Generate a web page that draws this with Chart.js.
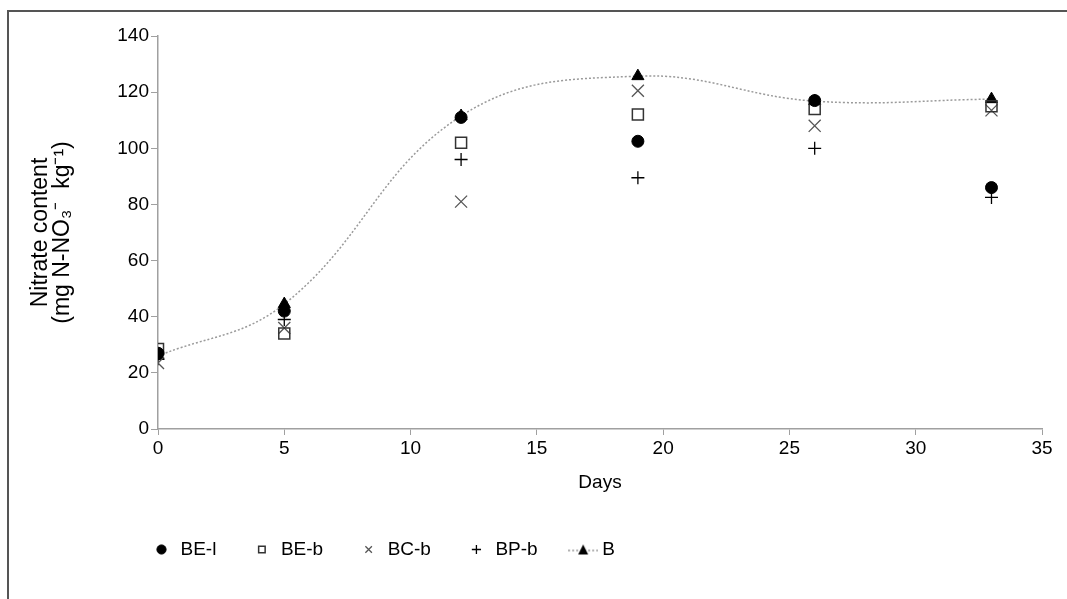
<!DOCTYPE html>
<html>
<head>
<meta charset="utf-8">
<script src="https://cdn.jsdelivr.net/npm/chart.js@4.4.1/dist/chart.umd.min.js"></script>
<style>
  html, body { margin: 0; padding: 0; background: #fff; }
  #wrap { position: relative; width: 1067px; height: 599px; overflow: hidden; }
  #frame { position: absolute; left: 7px; top: 10px; width: 1200px; height: 700px;
           border-top: 2px solid #555; border-left: 2px solid #555; }
  #chart { position: absolute; left: 0; top: 0; }
</style>
</head>
<body>
<div id="wrap">
  <div id="frame"></div>
  <canvas id="chart" width="1067" height="599"></canvas>
</div>
<script>
// sampling days
const days = [0, 5, 12, 19, 26, 33];

// nitrate content, mg N-NO3- kg-1
const beL = [27, 42, 111, 102.5, 117, 86];
const beB = [28.5, 34, 102, 112, 114, 115];
const bcB = [23.5, 36, 81, 120.5, 108, 113.5];
const bpB = [25, 39, 96, 89.5, 100, 82.5];
const bRef = [26, 44.5, 111.5, 125.7, 116.8, 117.5];

const seriesNames = ["BE-l", "BE-b", "BC-b", "BP-b", "B"];

const xTicks = [0, 5, 10, 15, 20, 25, 30, 35];
const yTicks = [0, 20, 40, 60, 80, 100, 120, 140];

const font = "'Liberation Sans', Arial, sans-serif";

function pts(ys) {
  return days.map((d, i) => ({ x: d, y: ys[i] }));
}

// legend marker for B: dotted line with a triangle
function lineMarker() {
  const c = document.createElement("canvas");
  c.width = 30; c.height = 12;
  const g = c.getContext("2d");
  g.strokeStyle = "#9a9a9a";
  g.lineWidth = 1.5;
  g.setLineDash([2, 2]);
  g.beginPath(); g.moveTo(0, 7); g.lineTo(30, 7); g.stroke();
  g.fillStyle = "#000";
  g.beginPath(); g.moveTo(15, 1); g.lineTo(20, 11); g.lineTo(10, 11); g.closePath(); g.fill();
  return c;
}
const bMarker = lineMarker();

const legendShift = {
  id: "legendShift",
  afterLayout(chart) {
    const lg = chart.legend;
    lg.left = 152 - lg.options.labels.padding;
  }
};

new Chart(document.getElementById("chart"), {
  type: "scatter",
  data: {
    datasets: [
      { label: seriesNames[0], data: pts(beL), pointStyle: "circle", pointRadius: 6, pointHoverRadius: 6,
        backgroundColor: "#000", borderColor: "#000", borderWidth: 1 },
      { label: seriesNames[1], data: pts(beB), pointStyle: "rect", pointRadius: 7.8, pointHoverRadius: 7.8,
        backgroundColor: "rgba(255,255,255,0)", borderColor: "#333", borderWidth: 1.5 },
      { label: seriesNames[2], data: pts(bcB), pointStyle: "crossRot", pointRadius: 8.5, pointHoverRadius: 8.5,
        backgroundColor: "#555", borderColor: "#555", borderWidth: 1.3 },
      { label: seriesNames[3], data: pts(bpB), pointStyle: "cross", pointRadius: 6.5, pointHoverRadius: 6.5,
        backgroundColor: "#000", borderColor: "#000", borderWidth: 1.3 },
      { label: seriesNames[4], data: pts(bRef), showLine: true, tension: 0.4,
        borderColor: "#9a9a9a", borderWidth: 1.5, borderDash: [2, 2],
        pointStyle: "triangle", pointRadius: 7, pointHoverRadius: 7,
        pointBackgroundColor: "#000", pointBorderColor: "#000", pointBorderWidth: 1 }
    ]
  },
  options: {
    responsive: false,
    animation: false,
    layout: { padding: { top: 36, right: 25, bottom: 30, left: 0 } },
    scales: {
      x: {
        type: "linear", min: 0, max: 35,
        afterBuildTicks: s => { s.ticks = xTicks.map(v => ({ value: v })); },
        afterFit: s => { s.height = 75; },
        grid: { drawOnChartArea: false, drawTicks: true, tickLength: 6, color: "#a0a0a0" },
        border: { color: "#a0a0a0", width: 1.5 },
        ticks: { color: "#000", padding: 2, maxRotation: 0, font: { family: font, size: 19 } },
        title: { display: true, text: "Days", color: "#000", padding: { top: 4, bottom: 10 },
                 font: { family: font, size: 19 } }
      },
      y: {
        min: 0, max: 140,
        afterBuildTicks: s => { s.ticks = yTicks.map(v => ({ value: v })); },
        afterFit: s => { s.width = 158; },
        grid: { drawOnChartArea: false, drawTicks: true, tickLength: 7, color: "#a0a0a0" },
        border: { color: "#a0a0a0", width: 1.5 },
        ticks: { color: "#000", padding: 2, font: { family: font, size: 19 } },
        title: { display: true, text: ["Nitrate content", "(mg N-NO\u2083\u207B  kg\u207B\u00B9)"], color: "#000",
                 padding: { top: 30, bottom: 0 }, font: { family: font, size: 23, lineHeight: 0.95 } }
      }
    },
    plugins: {
      tooltip: { enabled: false },
      legend: {
        position: "bottom",
        align: "start",
        labels: {
          usePointStyle: true,
          boxWidth: 19,
          boxHeight: 6.5,
          padding: 36,
          color: "#000",
          font: { family: font, size: 19 },
          generateLabels(chart) {
            const items = Chart.defaults.plugins.legend.labels.generateLabels(chart);
            items[4].pointStyle = bMarker;
            return items;
          }
        }
      }
    }
  },
  plugins: [legendShift]
});
</script>
</body>
</html>
